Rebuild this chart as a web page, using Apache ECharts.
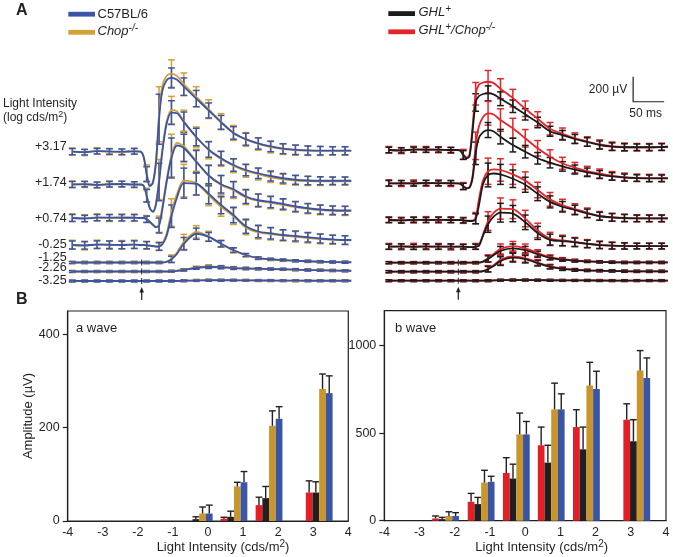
<!DOCTYPE html>
<html><head><meta charset="utf-8">
<script src="https://cdn.jsdelivr.net/npm/echarts@6/dist/echarts.min.js"></script>
<style>html,body{margin:0;padding:0;background:#fff}#c{width:673px;height:557px}</style>
</head><body><div id="c"></div>
<script>
// ================= DATA =================
// Panel A: ERG traces, time in ms relative to the flash, amplitudes in µV
const traceTimes = [-112,-92,-72,-52,-32,-12,-2,3,8,13,18,23,28,33,40,48,57,68,88,108,128,148,168,188,208,228,248,268,288,308,328,338];
const errorBarTimes = [-112,-92,-72,-52,-32,-12,8,28,48,68,88,108,128,148,168,188,208,228,248,268,288,308,328];
const intensityLabels = ['+3.17','+1.74','+0.74','-0.25','-1.25','-2.26','-3.25'];

// C57BL/6 (blue)
const c57_317  = [0,-4,4,2,0,3,0, -40,-180,-275,-250,-90,260,480,570, 590,575,520,425,330,235,150,100,66,42,24,15,10,8,8,8,8];
const c57_174  = [0,3,-3,2,4,0,0, -10,-90,-190,-218,-160,20,250,480, 575,570,500,380,280,210,156,116,90,68,50,38,32,30,30,30,30];
const c57_074  = [0,-4,3,3,2,2,0, 0,-10,-30,-55,-75,-60,60,280, 480,580,560,450,340,270,230,172,142,128,112,92,78,68,62,60,60];
const c57_m025 = [0,-3,3,2,0,3,0, 0,-2,-5,-8,-12,-12,5,70, 230,380,495,490,410,320,240,150,108,94,80,72,62,52,45,40,40];
const c57_m125 = [0,0,0,0,0,0,0, 0,0,0,0,0,0,0,5, 25,70,150,230,205,150,100,60,35,26,20,14,10,6,4,2,2];
const c57_m226 = [0,0,0,0,0,0,0, 0,0,0,0,0,0,0,0, 2,5,12,28,36,34,27,24,22,20,18,15,12,10,8,6,6];
const c57_m325 = [0,0,0,0,0,0,0, 0,0,0,0,0,0,0,0, 0,0,2,4,6,6,6,5,4,4,3,3,2,2,2,2,2];
// Chop-/- (gold)
const chop_317  = [2,-6,6,0,-3,4,0, -35,-170,-265,-245,-70,300,520,605, 625,605,540,440,340,240,150,98,62,36,20,12,8,6,6,6,6];
const chop_174  = [2,0,-4,4,2,-2,0, -8,-85,-185,-215,-150,40,270,500, 595,585,505,380,275,205,150,108,82,58,42,32,28,26,26,26,26];
const chop_074  = [3,-2,5,0,4,3,0, 0,-8,-28,-50,-70,-50,80,300, 500,600,575,455,340,265,222,165,138,122,105,88,74,64,58,56,56];
const chop_m025 = [2,-5,5,0,2,5,0, 0,-2,-6,-10,-14,-10,10,90, 260,410,515,495,400,305,230,140,100,88,76,66,56,48,42,38,38];
const chop_m125 = [0,0,0,0,0,0,0, 0,0,0,0,0,0,0,6, 30,80,165,245,210,150,96,58,34,24,18,13,9,6,4,3,3];
const chop_m226 = [0,0,0,0,0,0,0, 0,0,0,0,0,0,0,0, 2,6,14,32,40,36,28,24,21,19,17,14,12,10,8,6,6];
const chop_m325 = [0,0,0,0,0,0,0, 0,0,0,0,0,0,0,0, 0,0,2,5,7,7,6,5,4,3,3,2,2,2,2,2,2];
// GHL+ (black)
const ghl_317  = [0,-3,3,2,3,0,0, -5,-40,-67,-50,150,380,430,448, 453,445,410,350,285,220,150,118,88,64,40,27,22,22,22,24,26];
const ghl_174  = [0,2,-2,3,0,2,0, -3,-25,-40,-35,40,240,360,410, 426,415,373,306,253,200,165,135,110,88,70,55,46,42,40,40,40];
const ghl_074  = [0,-3,2,0,3,0,0, 0,-3,-6,-8,-8,10,110,290, 360,372,365,330,282,210,145,106,80,53,30,21,16,13,13,13,13];
const ghl_m025 = [0,2,-2,2,0,2,0, 0,0,-2,-3,-3,0,5,90, 180,240,272,265,195,110,55,45,35,22,13,8,6,5,5,5,5];
const ghl_m125 = [0,0,0,0,0,0,0, 0,0,0,0,0,0,0,8, 30,60,95,115,100,68,38,24,15,10,6,4,2,2,2,2,2];
const ghl_m226 = [0,0,0,0,0,0,0, 0,0,0,0,0,0,0,4, 20,45,85,112,100,68,38,22,14,10,8,6,4,3,3,3,3];
const ghl_m325 = [0,0,0,0,0,0,0, 0,0,0,0,0,0,0,0, 0,2,4,5,5,4,3,2,2,2,1,1,1,1,1,1,1];
// GHL+/Chop-/- (red)
const ghlchop_317  = [2,-5,5,4,2,-2,0, -5,-35,-60,-40,190,450,520,540, 546,535,490,415,330,250,170,130,95,68,45,30,24,22,22,25,26];
const ghlchop_174  = [2,-2,3,0,3,-2,0, -3,-22,-36,-30,60,300,450,530, 560,550,506,440,360,280,213,160,125,98,78,60,50,44,42,42,42];
const ghlchop_074  = [2,-2,0,3,0,2,0, 0,-3,-5,-6,-5,15,160,320, 390,405,400,365,315,240,165,118,88,58,33,22,16,14,13,13,13];
const ghlchop_m025 = [2,0,3,0,2,-2,0, 0,0,-2,-3,-3,2,10,100, 205,270,305,300,225,130,65,50,38,25,15,9,6,5,5,5,5];
const ghlchop_m125 = [0,0,0,0,0,0,0, 0,0,0,0,0,0,0,10, 35,70,110,132,115,78,45,28,18,12,7,4,2,2,2,2,2];
const ghlchop_m226 = [0,0,0,0,0,0,0, 0,0,0,0,0,0,0,5, 24,52,95,122,108,74,42,25,16,11,8,6,4,3,3,3,3];
const ghlchop_m325 = [0,0,0,0,0,0,0, 0,0,0,0,0,0,0,0, 0,2,4,6,6,5,4,3,2,2,2,1,1,1,1,1,1];

// error bars (± µV) at errorBarTimes
const c57Err_317  = [25,22,22,22,22,22, 60,200,80,70,65,60,55,50,48,45,42,40,38,36,34,32,32];
const c57Err_174  = [24,22,22,22,22,22, 50,150,95,80,70,62,55,50,46,42,40,38,36,34,32,30,30];
const c57Err_074  = [28,25,25,25,25,25, 25,60,160,110,90,80,70,62,56,50,46,42,40,38,36,34,34];
const c57Err_m025 = [32,30,30,30,30,30, 28,30,90,120,90,80,70,62,56,50,46,42,40,38,36,34,34];
const c57Err_m125 = [8,8,8,8,8,8, 8,8,25,50,45,35,25,18,12,10,8,8,8,8,8,8,8];
const c57Err_m226 = [7,7,7,7,7,7, 7,7,7,8,10,12,12,10,9,8,8,8,8,8,8,8,8];
const c57Err_m325 = [7,7,7,7,7,7, 7,7,7,7,7,7,7,7,7,7,7,7,7,7,7,7,7];
const chopErr_317  = [28,25,25,25,25,25, 65,220,110,90,80,75,65,60,55,50,46,42,40,38,36,34,34];
const chopErr_174  = [26,24,24,24,24,24, 55,160,110,90,80,70,60,55,50,46,42,40,38,36,34,32,32];
const chopErr_074  = [30,28,28,28,28,28, 28,65,170,120,95,85,75,66,58,52,48,44,42,40,38,36,36];
const chopErr_m025 = [36,34,34,34,34,34, 32,34,110,130,95,85,75,66,58,52,48,44,42,40,38,36,36];
const chopErr_m125 = [9,9,9,9,9,9, 9,9,30,60,50,40,28,20,13,10,9,9,9,9,9,9,9];
const chopErr_m226 = [8,8,8,8,8,8, 8,8,8,9,11,13,12,11,10,9,8,8,8,8,8,8,8];
const chopErr_m325 = [7,7,7,7,7,7, 7,7,7,7,7,7,7,7,7,7,7,7,7,7,7,7,7];
const ghlErr_317  = [22,20,20,20,20,20, 35,70,60,55,50,45,42,40,38,36,34,32,30,28,26,26,26];
const ghlErr_174  = [22,20,20,20,20,20, 25,90,60,58,55,50,46,42,38,36,34,32,30,28,26,26,26];
const ghlErr_074  = [20,20,20,20,20,20, 20,40,95,80,70,60,55,48,42,38,34,32,30,28,26,26,26];
const ghlErr_m025 = [20,20,20,20,20,20, 18,20,65,75,65,58,52,45,38,34,30,28,26,24,22,22,22];
const ghlErr_m125 = [8,8,8,8,8,8, 8,8,25,35,35,30,24,16,12,10,8,8,8,8,8,8,8];
const ghlErr_m226 = [8,8,8,8,8,8, 8,8,22,35,35,30,22,16,12,10,8,8,8,8,8,8,8];
const ghlErr_m325 = [7,7,7,7,7,7, 7,7,7,7,7,7,7,7,7,7,7,7,7,7,7,7,7];
const ghlchopErr_317  = [26,24,24,24,24,24, 40,90,90,80,70,62,56,50,46,42,38,36,34,32,30,30,30];
const ghlchopErr_174  = [26,24,24,24,24,24, 28,110,95,90,80,70,62,55,48,42,38,36,34,32,30,30,30];
const ghlchopErr_074  = [24,24,24,24,24,24, 24,45,105,90,80,70,62,55,48,42,38,35,32,30,28,28,28];
const ghlchopErr_m025 = [24,24,24,24,24,24, 22,24,75,85,75,66,58,50,42,36,32,30,28,26,24,24,24];
const ghlchopErr_m125 = [9,9,9,9,9,9, 9,9,28,40,38,34,26,18,13,10,9,9,9,9,9,9,9];
const ghlchopErr_m226 = [9,9,9,9,9,9, 9,9,25,38,38,32,24,17,12,10,9,9,9,9,9,9,9];
const ghlchopErr_m325 = [7,7,7,7,7,7, 7,7,7,7,7,7,7,7,7,7,7,7,7,7,7,7,7];

// scale bar: anchor (ms, µV) and size (ms, µV)
const scaleBarAnchor = [282, 386];
const scaleBarSize = [50, 200];

// Panel B: amplitudes vs log light intensity
const intensities = [-3.25, -2.26, -1.25, -0.25, 0.74, 1.74, 3.17];
const xTickValues = [-4,-3,-2,-1,0,1,2,3,4];
const aWaveTicks = [0, 200, 400];
const bWaveTicks = [0, 500, 1000];
const aWave_ghlChop = [0, 0, 0, 0, 5, 34, 61];
const aWaveErr_ghlChop = [0, 0, 0, 0, 3, 17, 25];
const aWave_ghl = [0, 0, 0, 4, 9, 49, 61];
const aWaveErr_ghl = [0, 0, 0, 5, 12, 25, 23];
const aWave_chop = [0, 0, 0, 16, 74, 204, 283];
const aWaveErr_chop = [0, 0, 0, 14, 9, 32, 32];
const aWave_c57 = [0, 0, 0, 16, 83, 219, 274];
const aWaveErr_c57 = [0, 0, 0, 18, 23, 26, 37];
const bWave_ghlChop = [0, 13, 108, 273, 431, 535, 577];
const bWaveErr_ghlChop = [0, 14, 48, 87, 104, 99, 91];
const bWave_ghl = [0, 9, 95, 241, 332, 408, 454];
const bWaveErr_ghl = [0, 10, 38, 82, 99, 127, 123];
const bWave_chop = [0, 27, 218, 493, 636, 772, 858];
const bWaveErr_chop = [0, 24, 70, 122, 150, 133, 114];
const bWave_c57 = [0, 27, 222, 493, 636, 753, 816];
const bWaveErr_c57 = [0, 19, 32, 74, 89, 101, 114];

// ================= STYLE / LAYOUT =================
const FONT = '"Liberation Sans", Arial, Helvetica, sans-serif';
const INK = '#231f20';
const BLUE = '#3a55a5', GOLD = '#d5a034', BLACK = '#1b1b1b', RED = '#e4262b';
const BAR_RED = '#e31e25', BAR_BLACK = '#231f20', BAR_GOLD = '#c9962d', BAR_BLUE = '#3a55a5';
const PX_PER_UV = 0.125, Y_MIN = -600, Y_MAX = 800;
const T_MIN = -115, T_MAX = 340, TRACE_W = 282.1;

const panels = [
  { left: 70.4, bases: [151.7,184.5,218,245,262.5,271.5,281],
    groups: [
      { color: GOLD, vals: [chop_317,chop_174,chop_074,chop_m025,chop_m125,chop_m226,chop_m325],
        errs: [chopErr_317,chopErr_174,chopErr_074,chopErr_m025,chopErr_m125,chopErr_m226,chopErr_m325] },
      { color: BLUE, vals: [c57_317,c57_174,c57_074,c57_m025,c57_m125,c57_m226,c57_m325],
        errs: [c57Err_317,c57Err_174,c57Err_074,c57Err_m025,c57Err_m125,c57Err_m226,c57Err_m325] } ] },
  { left: 387.0, bases: [150,183.3,220,246.7,262.7,271.7,280.7],
    groups: [
      { color: RED, vals: [ghlchop_317,ghlchop_174,ghlchop_074,ghlchop_m025,ghlchop_m125,ghlchop_m226,ghlchop_m325],
        errs: [ghlchopErr_317,ghlchopErr_174,ghlchopErr_074,ghlchopErr_m025,ghlchopErr_m125,ghlchopErr_m226,ghlchopErr_m325] },
      { color: BLACK, vals: [ghl_317,ghl_174,ghl_074,ghl_m025,ghl_m125,ghl_m226,ghl_m325],
        errs: [ghlErr_317,ghlErr_174,ghlErr_074,ghlErr_m025,ghlErr_m125,ghlErr_m226,ghlErr_m325] } ] }
];

const grids = [], xAxes = [], yAxes = [], series = [];
function addTraceGrid(left, base) {
  const idx = grids.length;
  grids.push({ left: left, top: base - Y_MAX * PX_PER_UV, width: TRACE_W,
               height: (Y_MAX - Y_MIN) * PX_PER_UV, outerBoundsMode: 'none', containLabel: false });
  xAxes.push({ type: 'value', gridIndex: idx, min: T_MIN, max: T_MAX, show: false });
  yAxes.push({ type: 'value', gridIndex: idx, min: Y_MIN, max: Y_MAX, show: false });
  return idx;
}
function errRender(color) {
  return function (params, api) {
    const t = api.value(0), v = api.value(1), e = api.value(2);
    const a = api.coord([t, v + e]), b = api.coord([t, v - e]);
    const hw = 3.4, st = { stroke: color, lineWidth: 1.5 };
    return { type: 'group', children: [
      { type: 'line', shape: { x1: a[0], y1: a[1], x2: b[0], y2: b[1] }, style: st },
      { type: 'line', shape: { x1: a[0]-hw, y1: a[1], x2: a[0]+hw, y2: a[1] }, style: st },
      { type: 'line', shape: { x1: b[0]-hw, y1: b[1], x2: b[0]+hw, y2: b[1] }, style: st } ] };
  };
}

panels.forEach(function (pn, pi) {
  pn.bases.forEach(function (base, r) {
    const g = addTraceGrid(pn.left, base);
    pn.groups.forEach(function (grp) {
      const vals = grp.vals[r], errs = grp.errs[r];
      series.push({ type: 'custom', xAxisIndex: g, yAxisIndex: g, clip: false, silent: true,
        data: errorBarTimes.map(function (t, k) { return [t, vals[traceTimes.indexOf(t)], errs[k]]; }),
        renderItem: errRender(grp.color) });
      series.push({ type: 'line', xAxisIndex: g, yAxisIndex: g, clip: false, silent: true,
        data: traceTimes.map(function (t, i) { return [t, vals[i]]; }),
        symbol: 'none', showSymbol: false, smooth: 0.3,
        lineStyle: { color: grp.color, width: 1.8 } });
    });
    if (r >= 4) {
      const isLast = r === 6;
      series.push({ type: 'custom', xAxisIndex: g, yAxisIndex: g, clip: false, silent: true, z: 5,
        data: [[0, 0]],
        renderItem: function (params, api) {
          const c = api.coord([api.value(0), api.value(1)]);
          const ch = [{ type: 'line', shape: { x1: c[0], y1: c[1]-3, x2: c[0], y2: c[1]+3 }, style: { stroke: INK, lineWidth: 1 } }];
          if (isLast) {
            ch.push({ type: 'line', shape: { x1: c[0], y1: c[1]+10, x2: c[0], y2: c[1]+19 }, style: { stroke: INK, lineWidth: 1.2 } });
            ch.push({ type: 'polygon', shape: { points: [[c[0], c[1]+6], [c[0]-2.3, c[1]+11.5], [c[0]+2.3, c[1]+11.5]] }, style: { fill: INK } });
          }
          return { type: 'group', children: ch };
        } });
    }
    if (pi === 1 && r === 0) {
      series.push({ type: 'custom', xAxisIndex: g, yAxisIndex: g, clip: false, silent: true,
        data: [[scaleBarAnchor[0], scaleBarAnchor[1], scaleBarSize[0], scaleBarSize[1]]],
        renderItem: function (params, api) {
          const t0 = api.value(0), v0 = api.value(1), dt = api.value(2), dv = api.value(3);
          const o = api.coord([t0, v0]), h = api.coord([t0 + dt, v0]), v = api.coord([t0, v0 + dv]);
          return { type: 'group', children: [
            { type: 'polyline', shape: { points: [v, o, h] }, style: { stroke: INK, lineWidth: 1.2, fill: null } },
            { type: 'text', x: o[0] - 6, y: (o[1] + v[1]) / 2, style: { text: dv + ' µV', align: 'right', verticalAlign: 'middle', font: '12px ' + FONT, fill: INK } },
            { type: 'text', x: (o[0] + h[0]) / 2 - 3, y: o[1] + 11.5, style: { text: dt + ' ms', align: 'center', verticalAlign: 'middle', font: '12px ' + FONT, fill: INK } } ] };
        } });
    }
  });
});

// ---- Panel B bar charts ----
function plainNumber(v) { return String(v); }
function addBarGrid(left, top, width, height, yMax, ticks, yName) {
  const idx = grids.length;
  grids.push({ left: left, top: top, width: width, height: height, show: true,
               borderColor: INK, borderWidth: 1.2, outerBoundsMode: 'none', containLabel: false });
  xAxes.push({ type: 'value', gridIndex: idx, min: -4, max: 4, interval: 1,
    axisLine: { show: true, onZero: false, lineStyle: { color: INK, width: 1.2 } },
    axisTick: { show: false }, splitLine: { show: false },
    axisLabel: { color: INK, fontSize: 12.5, fontFamily: FONT, margin: 5, customValues: xTickValues, formatter: plainNumber } });
  const ya = { type: 'value', gridIndex: idx, min: 0, max: yMax,
    axisLine: { show: true, onZero: false, lineStyle: { color: INK, width: 1.2 } },
    axisTick: { show: true, length: 5, lineStyle: { color: INK, width: 1.2 }, customValues: ticks },
    splitLine: { show: false },
    axisLabel: { color: INK, fontSize: 12.5, fontFamily: FONT, margin: 8, customValues: ticks, formatter: plainNumber } };
  if (yName) {
    ya.name = yName; ya.nameLocation = 'middle'; ya.nameGap = 32;
    ya.nameTextStyle = { color: INK, fontSize: 13, fontFamily: FONT };
  }
  yAxes.push(ya);
  return idx;
}
const BW = 6.7;
function barRender(color, slot) {
  return function (params, api) {
    const x = api.value(0), v = api.value(1), e = api.value(2);
    const base = api.coord([x, 0]), top = api.coord([x, v]);
    const cx = base[0] + (slot - 1.5) * BW;
    const ch = [];
    if (v > 0) ch.push({ type: 'rect', shape: { x: cx - BW / 2, y: top[1], width: BW, height: base[1] - top[1] }, style: { fill: color } });
    if (e > 0) {
      const et = api.coord([x, v + e]);
      const st = { stroke: INK, lineWidth: 1.4 };
      ch.push({ type: 'line', shape: { x1: cx, y1: top[1], x2: cx, y2: et[1] }, style: st });
      ch.push({ type: 'line', shape: { x1: cx - 3.4, y1: et[1], x2: cx + 3.4, y2: et[1] }, style: st });
    }
    return { type: 'group', children: ch };
  };
}
const aIdx = addBarGrid(67.7, 311, 280.6, 210, 450, aWaveTicks, 'Amplitude (µV)');
const bIdx = addBarGrid(384.3, 310.7, 281.7, 210, 1200, bWaveTicks, null);
const barSets = [
  [aIdx, [[aWave_ghlChop, aWaveErr_ghlChop, BAR_RED], [aWave_ghl, aWaveErr_ghl, BAR_BLACK], [aWave_chop, aWaveErr_chop, BAR_GOLD], [aWave_c57, aWaveErr_c57, BAR_BLUE]]],
  [bIdx, [[bWave_ghlChop, bWaveErr_ghlChop, BAR_RED], [bWave_ghl, bWaveErr_ghl, BAR_BLACK], [bWave_chop, bWaveErr_chop, BAR_GOLD], [bWave_c57, bWaveErr_c57, BAR_BLUE]]]
];
barSets.forEach(function (bs) {
  bs[1].forEach(function (s, slot) {
    series.push({ type: 'custom', xAxisIndex: bs[0], yAxisIndex: bs[0], silent: true, clip: false,
      data: intensities.map(function (x, i) { return [x, s[0][i], s[1][i]]; }),
      renderItem: barRender(s[2], slot) });
  });
});

// ---- text & legend ----
const supRich = function (size, italic) {
  return {
    n: { fontSize: size, fontFamily: FONT, fill: INK, fontStyle: italic ? 'italic' : 'normal' },
    sup: { fontSize: size - 3, fontFamily: FONT, fill: INK, fontStyle: italic ? 'italic' : 'normal', verticalAlign: 'bottom', padding: [0, 0, 6, 0] }
  };
};
const rowLabelY = [146.7, 182.7, 218.3, 245, 257.3, 267.7, 280.7];
const graphic = [
  { type: 'text', x: 16, y: 11, style: { text: 'A', font: 'bold 16px ' + FONT, fill: INK, verticalAlign: 'middle' } },
  { type: 'text', x: 16, y: 300, style: { text: 'B', font: 'bold 16px ' + FONT, fill: INK, verticalAlign: 'middle' } },
  { type: 'rect', shape: { x: 68.3, y: 11.8, width: 26.7, height: 4.8 }, style: { fill: BLUE } },
  { type: 'text', x: 97.5, y: 14.5, style: { text: 'C57BL/6', font: '13px ' + FONT, fill: INK, verticalAlign: 'middle' } },
  { type: 'rect', shape: { x: 68.3, y: 29.9, width: 26.7, height: 4.8 }, style: { fill: GOLD } },
  { type: 'text', x: 97.5, y: 31, style: { text: '{n|Chop}{sup|-/-}', rich: supRich(13, true), verticalAlign: 'middle' } },
  { type: 'rect', shape: { x: 388.3, y: 11.2, width: 26.7, height: 4.8 }, style: { fill: BLACK } },
  { type: 'text', x: 418.5, y: 12.5, style: { text: '{n|GHL}{sup|+}', rich: supRich(13, true), verticalAlign: 'middle' } },
  { type: 'rect', shape: { x: 388.3, y: 29.4, width: 26.7, height: 4.8 }, style: { fill: RED } },
  { type: 'text', x: 418.5, y: 30.5, style: { text: '{n|GHL}{sup|+}{n|/Chop}{sup|-/-}', rich: supRich(13, true), verticalAlign: 'middle' } },
  { type: 'text', x: 3, y: 104, style: { text: 'Light Intensity', font: '12px ' + FONT, fill: INK, verticalAlign: 'middle' } },
  { type: 'text', x: 3, y: 118, style: { text: '{n|(log cds/m}{sup|2}{n|)}', rich: supRich(12, false), verticalAlign: 'middle' } },
  { type: 'text', x: 76, y: 328, style: { text: 'a wave', font: '13px ' + FONT, fill: INK, verticalAlign: 'middle' } },
  { type: 'text', x: 395, y: 328, style: { text: 'b wave', font: '13px ' + FONT, fill: INK, verticalAlign: 'middle' } },
  { type: 'text', x: 223, y: 547, style: { text: '{n|Light Intensity (cds/m}{sup|2}{n|)}', rich: supRich(13, false), align: 'center', verticalAlign: 'middle' } },
  { type: 'text', x: 541.7, y: 547, style: { text: '{n|Light Intensity (cds/m}{sup|2}{n|)}', rich: supRich(13, false), align: 'center', verticalAlign: 'middle' } }
];
intensityLabels.forEach(function (lab, i) {
  graphic.push({ type: 'text', x: 66.7, y: rowLabelY[i], style: { text: lab, font: '12.5px ' + FONT, fill: INK, align: 'right', verticalAlign: 'middle' } });
});

const chart = echarts.init(document.getElementById('c'), null, { renderer: 'canvas', width: 673, height: 557 });
chart.setOption({
  animation: false,
  backgroundColor: '#ffffff',
  grid: grids, xAxis: xAxes, yAxis: yAxes, series: series, graphic: graphic
});
</script></body></html>
